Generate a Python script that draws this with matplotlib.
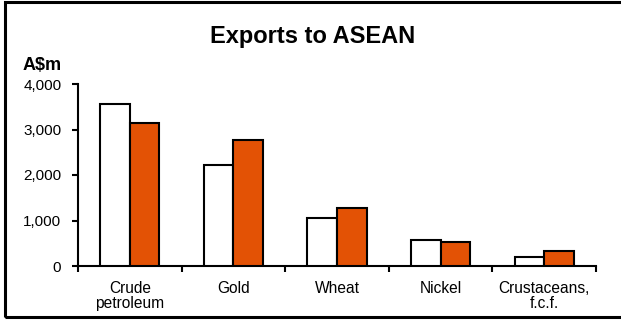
import numpy as np
import matplotlib
matplotlib.use("Agg")
import matplotlib.pyplot as plt
from matplotlib.patches import Rectangle

plt.rcParams['font.family'] = ['Liberation Sans', 'DejaVu Sans']

# data (A$m)
categories = ["Crude\npetroleum", "Gold", "Wheat", "Nickel", "Crustaceans,\nf.c.f."]
series_a = [3555, 2220, 1045, 565, 195]   # white bars
series_b = [3135, 2770, 1270, 525, 335]   # orange bars
yticks = [0, 1000, 2000, 3000, 4000]

orange = '#E35205'

fig = plt.figure(figsize=(6.21, 3.2), dpi=100)
ax = fig.add_axes([78 / 621, 1 - 266 / 320, (596 - 78) / 621, (266 - 84) / 320])

x = np.arange(len(categories))
w = 0.285
ax.bar(x - w / 2, series_a, w, color='white', edgecolor='black', linewidth=1.5, zorder=3)
ax.bar(x + w / 2, series_b, w, color=orange, edgecolor='black', linewidth=1.5, zorder=3)

ax.set_xlim(-0.5, len(categories) - 0.5)
ax.set_ylim(0, 4000)
ax.set_yticks(yticks)
ax.set_yticklabels([f"{v:,}" for v in yticks], fontsize=11)

# category labels centred, tick marks between categories
ax.set_xticks(x)
ax.set_xticklabels(categories, fontsize=11.2, linespacing=1.0)
ax.tick_params(axis='x', which='major', length=0, pad=11)
ax.set_xticks(np.arange(-0.5, len(categories)), minor=True)
ax.tick_params(axis='x', which='minor', length=4, width=1.5, direction='out')
ax.tick_params(axis='y', length=4, width=1.5, direction='out', pad=8)

for s in ['top', 'right']:
    ax.spines[s].set_visible(False)
for s in ['left', 'bottom']:
    ax.spines[s].set_linewidth(1.5)

fig.text(313 / 621, 1 - 37 / 320, "Exports to ASEAN", ha='center', va='center',
         fontsize=17, fontweight='bold')
fig.text(23 / 621, 1 - 66 / 320, "A$m", ha='left', va='center',
         fontsize=13, fontweight='bold')

# outer frame (open on the right like the source)
fig.patches.append(Rectangle((4.5 / 621, 3.5 / 320), 1.2, 1 - 5 / 320,
                             transform=fig.transFigure, fill=False,
                             edgecolor='black', linewidth=2.2))

fig.savefig("out.png", dpi=100)
